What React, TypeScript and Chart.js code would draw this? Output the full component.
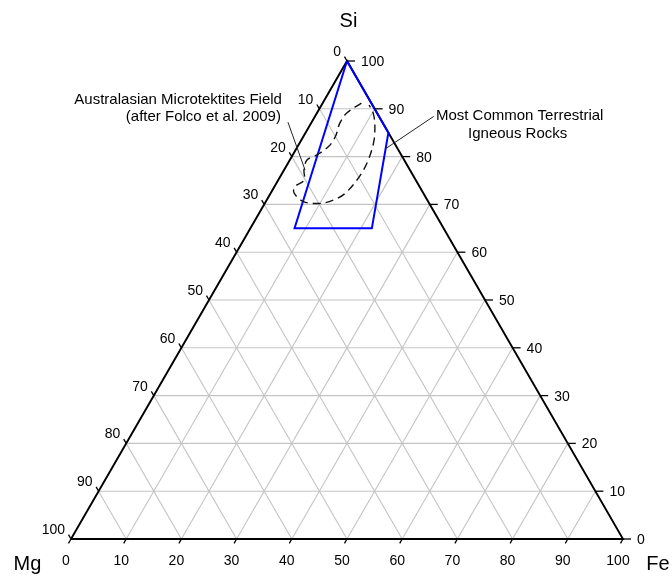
import React, { useEffect, useRef } from "react";
import { Chart, registerables } from "chart.js";

Chart.register(...registerables);

// ---- data (ternary: Si %, Fe %; Mg = 100 - Si - Fe) ----
const TICK_VALUES = [0, 10, 20, 30, 40, 50, 60, 70, 80, 90, 100];
const TICK_LABELS = ["0", "10", "20", "30", "40", "50", "60", "70", "80", "90", "100"];
const GRID_VALUES = [10, 20, 30, 40, 50, 60, 70, 80, 90];

const AXIS_TITLES = ["Si", "Mg", "Fe"];

// Most Common Terrestrial Igneous Rocks (blue polygon)
const ROCKS_SI = [100, 85, 65, 65, 100];
const ROCKS_FE = [0, 15, 22, 8, 0];

// Australasian Microtektites Field (dashed outline)
const FIELD_SI = [91.2, 89.1, 87.0, 84.2, 82.1, 80.3, 79.3, 77.2, 75.1, 73.7, 72.4, 70.6, 70.2, 70.9, 72.3, 75.5, 78.6, 82.8, 86.3, 89.1, 90.8];
const FIELD_FE = [7.0, 5.4, 5.2, 5.8, 5.6, 4.3, 3.1, 3.6, 4.7, 3.7, 4.2, 6.8, 10.0, 12.1, 13.5, 14.3, 14.3, 13.4, 11.9, 10.2, 8.6];

// leader lines
const LEADER_FIELD_SI = [87.2, 77.2];
const LEADER_FIELD_FE = [-4.3, 3.8];
const LEADER_ROCKS_SI = [88.4, 81.7];
const LEADER_ROCKS_FE = [21.5, 16.2];

const FIELD_LABEL = ["Australasian Microtektites Field", "(after Folco et al. 2009)"];
const ROCKS_LABEL = ["Most Common Terrestrial", "Igneous Rocks"];

const H = Math.sqrt(3) / 2;
const tern = (si: number, fe: number) => ({ x: fe + si / 2, y: si * H });
const series = (si: number[], fe: number[]) => si.map((s, i) => tern(s, fe[i]));

const FONT = 'Arial, "Liberation Sans", sans-serif';

const ternaryPlugin = {
  id: "ternaryText",
  afterDatasetsDraw(chart: any) {
    const { ctx, scales } = chart;
    const xs = scales.x;
    const ys = scales.y;
    const P = (si: number, fe: number) => {
      const p = tern(si, fe);
      return [xs.getPixelForValue(p.x), ys.getPixelForValue(p.y)];
    };
    const seg = (x1: number, y1: number, x2: number, y2: number) => {
      ctx.beginPath();
      ctx.moveTo(x1, y1);
      ctx.lineTo(x2, y2);
      ctx.stroke();
    };
    ctx.save();
    ctx.strokeStyle = "#000";
    ctx.lineWidth = 1.3;
    ctx.fillStyle = "#000";
    ctx.textBaseline = "alphabetic";
    ctx.font = "14px " + FONT;
    TICK_VALUES.forEach((v, i) => {
      const lab = TICK_LABELS[i];
      // left edge (Mg)
      const [lx, ly] = P(100 - v, 0);
      seg(lx, ly, lx - 2.5, ly - 4.3);
      ctx.textAlign = "right";
      ctx.fillText(lab, lx - 6, ly - 5);
      // right edge (Si)
      const [rx, ry] = P(v, 100 - v);
      seg(rx, ry, rx + 8, ry);
      ctx.textAlign = "left";
      ctx.fillText(lab, rx + 14, ry + 5);
      // bottom edge (Fe)
      const [bx, by] = P(0, v);
      seg(bx, by, bx - 2.5, by + 4.3);
      ctx.textAlign = "center";
      ctx.fillText(lab, bx - 5, by + 26);
    });

    // axis titles
    ctx.font = "20px " + FONT;
    ctx.textAlign = "center";
    const [sx, sy] = P(100, 0);
    ctx.fillText(AXIS_TITLES[0], sx + 1.5, sy - 34);
    const [mx, my] = P(0, 0);
    ctx.fillText(AXIS_TITLES[1], mx - 43.5, my + 31);
    const [fx, fy] = P(0, 100);
    ctx.fillText(AXIS_TITLES[2], fx + 35, fy + 31);

    // annotations
    ctx.font = "15px " + FONT;
    const [a1x, a1y] = P(LEADER_FIELD_SI[0], LEADER_FIELD_FE[0]);
    ctx.textAlign = "right";
    ctx.fillText(FIELD_LABEL[0], a1x - 6, a1y - 18);
    ctx.fillText(FIELD_LABEL[1], a1x - 7, a1y - 1.5);
    const [a2x, a2y] = P(LEADER_ROCKS_SI[0], LEADER_ROCKS_FE[0]);
    ctx.textAlign = "center";
    ctx.fillText(ROCKS_LABEL[0], a2x + 86, a2y + 3.5);
    ctx.fillText(ROCKS_LABEL[1], a2x + 84, a2y + 21.8);
    ctx.restore();
  },
};

export default function App() {
  const ref = useRef<HTMLCanvasElement | null>(null);

  useEffect(() => {
    if (!ref.current) return;
    const datasets: any[] = [];
    const base = { showLine: true, pointRadius: 0, pointHoverRadius: 0, fill: false, clip: false as any, tension: 0 };

    GRID_VALUES.forEach((g) => {
      // constant Si
      datasets.push({ ...base, order: 10, data: [tern(g, 0), tern(g, 100 - g)], borderColor: "#c4c4c4", borderWidth: 1.1 });
      // constant Fe
      datasets.push({ ...base, order: 10, data: [tern(0, g), tern(100 - g, g)], borderColor: "#c4c4c4", borderWidth: 1.1 });
      // constant Mg
      datasets.push({ ...base, order: 10, data: [tern(0, 100 - g), tern(100 - g, 0)], borderColor: "#c4c4c4", borderWidth: 1.1 });
    });

    // triangle frame
    datasets.push({ ...base, order: 5, data: [tern(0, 0), tern(0, 100), tern(100, 0), tern(0, 0)], borderColor: "#000", borderWidth: 1.9 });

    // blue polygon
    datasets.push({ ...base, order: 2, data: series(ROCKS_SI, ROCKS_FE), borderColor: "#0000ff", borderWidth: 2 });

    // dashed field
    datasets.push({ ...base, order: 1, tension: 0.35, data: series(FIELD_SI, FIELD_FE), borderColor: "#111", borderWidth: 1.4, borderDash: [8, 5] });

    // leaders
    datasets.push({ ...base, order: 1, data: series(LEADER_FIELD_SI, LEADER_FIELD_FE), borderColor: "#222", borderWidth: 1 });
    datasets.push({ ...base, order: 1, data: series(LEADER_ROCKS_SI, LEADER_ROCKS_FE), borderColor: "#222", borderWidth: 1 });

    const chart = new Chart(ref.current, {
      type: "scatter",
      data: { datasets },
      options: {
        animation: false,
        responsive: false,
        maintainAspectRatio: false,
        events: [],
        layout: { padding: { left: 71, right: 49, top: 61, bottom: 37 } },
        plugins: { legend: { display: false }, tooltip: { enabled: false }, title: { display: false } },
        scales: {
          x: { type: "linear", min: 0, max: 100, display: false },
          y: { type: "linear", min: 0, max: 100 * H, display: false },
        },
      },
      plugins: [ternaryPlugin],
    });
    return () => chart.destroy();
  }, []);

  return (
    <div style={{ position: "fixed", left: 0, top: 0, width: 672, height: 576, background: "#fff" }}>
      <canvas ref={ref} width={672} height={576} style={{ display: "block" }} />
    </div>
  );
}
